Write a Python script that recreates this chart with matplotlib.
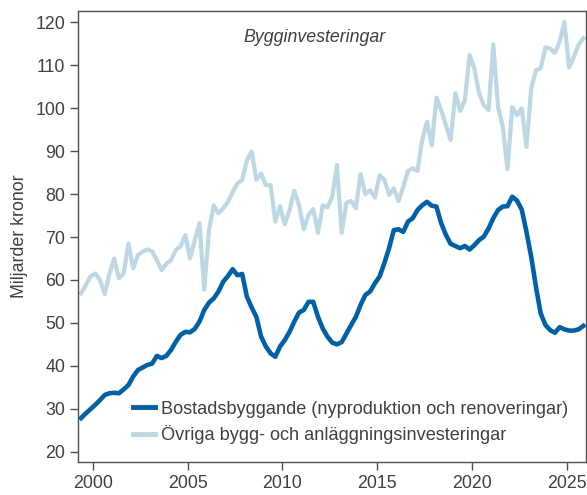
import numpy as np
import matplotlib.pyplot as plt

plt.rcParams['font.family'] = ['Liberation Sans', 'DejaVu Sans']

# kvartal, mitt i kvartalet: 1999 kv2 .. 2025 kv4
start = 1999.375
n_q = 107

bostad = [27.8, 28.9, 29.9, 30.9, 32.0, 33.2, 33.6, 33.7, 33.6, 34.5, 35.5, 37.5, 39.0, 39.6,
          40.2, 40.5, 42.3, 41.8, 42.3, 43.7, 45.6, 47.2, 47.9, 47.8, 48.6, 50.3, 53.0,
          54.7, 55.7, 57.3, 59.6, 60.9, 62.5, 61.1, 61.4, 56.1, 53.6, 51.4, 46.8, 44.5,
          42.9, 42.1, 44.5, 46.0, 47.9, 50.3, 52.4, 53.0, 54.9, 54.9, 51.4, 48.7, 46.8, 45.4,
          45.0, 45.5, 47.5, 49.5, 51.4, 54.2, 56.5, 57.3, 59.2, 60.8, 63.9, 67.4, 71.6,
          71.8, 71.2, 73.6, 74.4, 76.3, 77.4, 78.2, 77.3, 77.1, 73.2, 70.5, 68.4, 67.9, 67.4,
          67.9, 67.1, 68.1, 69.3, 70.1, 72.0, 74.4, 76.3, 77.1, 77.2, 79.4, 78.5, 76.4,
          71.2, 65.4, 58.4, 52.2, 49.5, 48.3, 47.7, 49.0, 48.5, 48.2, 48.2, 48.5, 49.3]

ovriga = [56.9, 58.8, 60.8, 61.5, 60.0, 56.7, 61.5, 65.0, 60.4, 61.5, 68.5, 62.7, 65.8, 66.6,
          67.1, 66.7, 64.6, 62.3, 63.8, 64.6, 67.0, 67.8, 70.5, 65.0, 69.3, 73.2, 57.7,
          71.6, 77.4, 75.5, 76.7, 78.2, 80.5, 82.5, 83.3, 87.9, 89.9, 83.4, 84.8, 82.1,
          82.1, 73.6, 77.2, 73.0, 76.3, 80.8, 77.4, 71.8, 75.1, 76.5, 71.0, 77.4, 76.9, 79.4,
          86.8, 71.0, 78.0, 78.4, 76.7, 84.7, 80.0, 80.9, 79.2, 84.4, 83.4, 79.8, 81.3,
          78.4, 81.7, 85.4, 86.0, 85.4, 92.6, 96.9, 91.4, 102.5, 99.6, 96.1, 92.6, 103.5, 99.4,
          101.9, 112.4, 109.3, 103.5, 100.7, 99.6, 114.9, 100.3, 95.7, 85.8, 100.3, 98.4,
          100.0, 91.0, 104.6, 108.9, 109.3, 114.2, 113.9, 112.9, 115.5, 120.1, 109.5, 112.0,
          114.8, 116.3]

x = start + 0.25 * np.arange(n_q)

text_col = '#404040'
fs = 12.8
fig = plt.figure(figsize=(5.87, 4.95), dpi=100)
ax = fig.add_axes([0.1324, 0.066, 0.8654, 0.912])

ax.plot(x, ovriga, color='#bdd7e4', lw=3.0, zorder=2)
ax.plot(x, bostad, color='#0061a8', lw=3.3, zorder=3)

l1, = ax.plot([], [], color='#0061a8', lw=3.5)
l2, = ax.plot([], [], color='#bdd7e4', lw=3.5)
ax.legend([l1, l2], ['Bostadsbyggande (nyproduktion och renoveringar)',
                     'Övriga bygg- och anläggningsinvesteringar'],
          loc='lower left', bbox_to_anchor=(0.09, 0.02), frameon=False,
          fontsize=13.1, handlelength=1.25, handletextpad=0.3, labelspacing=0.42,
          borderpad=0, labelcolor=text_col)

ax.text(0.4665, 0.94, 'Bygginvesteringar', transform=ax.transAxes, ha='center', va='center',
        fontsize=fs, style='italic', color=text_col)

ax.set_xlim(1999.2, 2026.0)
ax.set_ylim(17.5, 122.7)
ax.set_xticks([2000, 2005, 2010, 2015, 2020, 2025])
ax.set_yticks(range(20, 121, 10))
ax.set_ylabel('Miljarder kronor', fontsize=fs, color=text_col, labelpad=5)
ax.tick_params(direction='out', length=5.5, width=1, colors='#505050', labelcolor=text_col,
               labelsize=fs)
for s in ax.spines.values():
    s.set_color('#505050')
    s.set_linewidth(1)

fig.savefig('out.png', dpi=100)
